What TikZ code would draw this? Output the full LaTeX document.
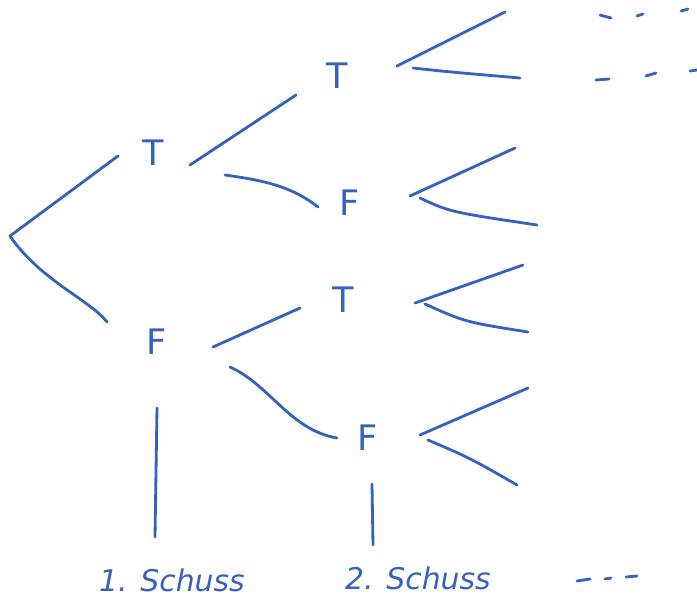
\documentclass[tikz,border=0pt]{standalone}
\usepackage{fontspec}
\setmainfont{DejaVu Sans}
\begin{document}
\begin{tikzpicture}[x=0.02cm,y=-0.02cm,
  ink/.style={draw=inkblue,line width=1.6pt,line cap=round},
  lab/.style={text=inkblue,font=\fontsize{20}{22}\selectfont,inner sep=1pt},
  captxt/.style={text=inkblue,font=\fontsize{17}{20}\selectfont\itshape,inner sep=1pt}]
\definecolor{inkblue}{RGB}{52,98,190}
\useasboundingbox (0,0) rectangle (697,599);
% nodes
\node[lab] (t1) at (153,153) {T};
\node[lab] (f1) at (157,342) {F};
\node[lab] (t2) at (337,76) {T};
\node[lab] (f2) at (350,203) {F};
\node[lab] (t3) at (343,300) {T};
\node[lab] (f3) at (368,438) {F};
\node[captxt] (c1) at (172,580) {1. Schuss};
\node[captxt] (c2) at (418,578) {2. Schuss};
% coordinates
\coordinate (r) at (10,236);
\coordinate (r1) at (118,156);
\coordinate (r2) at (107,322);
\coordinate (a1) at (190,165); \coordinate (a2) at (296,95);
\coordinate (b1) at (225,175); \coordinate (b2) at (318,207);
\coordinate (c1s) at (213,347); \coordinate (c1e) at (300,308);
\coordinate (d1) at (230,367); \coordinate (d2) at (337,438);
\coordinate (e1) at (157,408); \coordinate (e2) at (155,537);
\coordinate (g1) at (372,484); \coordinate (g2) at (373,545);
% T2 fan
\coordinate (t2a) at (397,66); \coordinate (t2b) at (505,12);
\coordinate (t2c) at (413,68); \coordinate (t2d) at (520,78);
% F2 fan
\coordinate (f2a) at (410,196); \coordinate (f2b) at (515,148);
\coordinate (f2c) at (420,198); \coordinate (f2d) at (537,225);
% T3 fan
\coordinate (t3a) at (415,303); \coordinate (t3b) at (523,265);
\coordinate (t3c) at (425,304); \coordinate (t3d) at (528,332);
% F3 fan
\coordinate (f3a) at (420,435); \coordinate (f3b) at (528,388);
\coordinate (f3c) at (428,440); \coordinate (f3d) at (517,485);
% edges
\draw[ink] (r) -- (r1);
\draw[ink] (r) .. controls (40,280) and (90,300) .. (r2);
\draw[ink] (a1) -- (a2);
\draw[ink] (b1) .. controls (260,180) and (290,185) .. (b2);
\draw[ink] (c1s) -- (c1e);
\draw[ink] (d1) .. controls (270,385) and (290,430) .. (d2);
\draw[ink] (e1) -- (e2);
\draw[ink] (g1) -- (g2);
\draw[ink] (t2a) -- (t2b);
\draw[ink] (t2c) .. controls (450,72) .. (t2d);
\draw[ink] (f2a) -- (f2b);
\draw[ink] (f2c) .. controls (450,212) .. (f2d);
\draw[ink] (t3a) -- (t3b);
\draw[ink] (t3c) .. controls (465,322) .. (t3d);
\draw[ink] (f3a) -- (f3b);
\draw[ink] (f3c) .. controls (470,458) .. (f3d);
% dots
\coordinate (p1) at (600,15); \coordinate (p2) at (611,18);
\coordinate (p3) at (637,16); \coordinate (p4) at (643,14);
\coordinate (p5) at (681,11); \coordinate (p6) at (688,9);
\coordinate (q1) at (596,80); \coordinate (q2) at (609,79);
\coordinate (q3) at (646,76); \coordinate (q4) at (656,73);
\coordinate (q5) at (690,71); \coordinate (q6) at (697,70);
\coordinate (s1) at (577,581); \coordinate (s2) at (590,579);
\coordinate (s3) at (605,579); \coordinate (s4) at (611,578);
\coordinate (s5) at (626,577); \coordinate (s6) at (637,576);
\foreach \u/\v in {p1/p2,p3/p4,p5/p6,q1/q2,q3/q4,q5/q6,s1/s2,s3/s4,s5/s6}
  \draw[ink] (\u) -- (\v);
\end{tikzpicture}
\end{document}
